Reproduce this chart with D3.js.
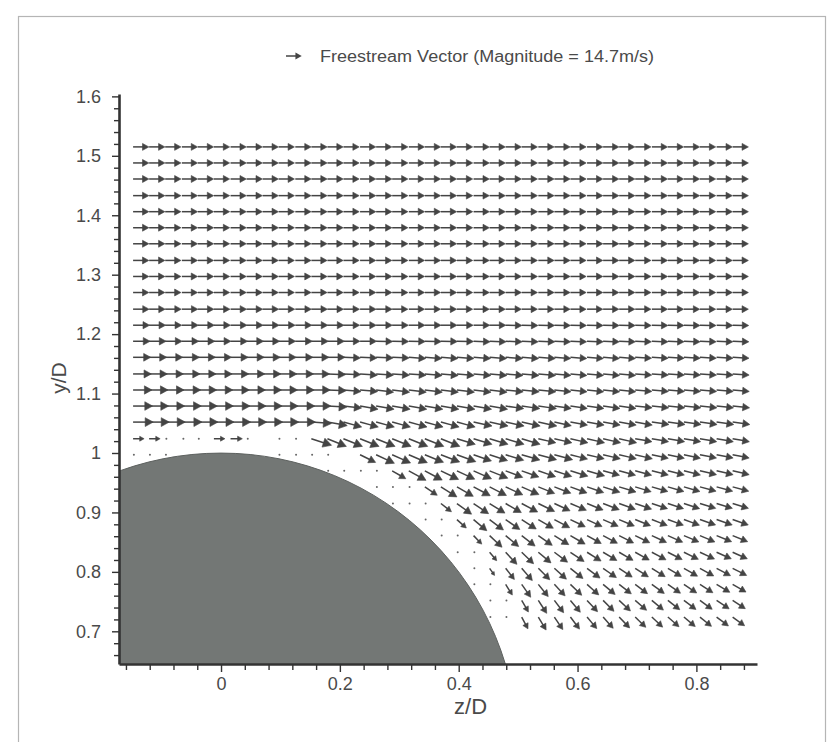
<!DOCTYPE html>
<html><head><meta charset="utf-8">
<script src="https://cdn.jsdelivr.net/npm/d3@7/dist/d3.min.js"></script>
<style>
html,body{margin:0;padding:0;background:#fff;}
svg{display:block;}
text{font-family:"Liberation Sans",Arial,Helvetica,sans-serif;fill:#4a4a4a;}
</style></head><body>
<svg id="chart" width="838" height="742"></svg>
<script>
// ---------------- data ----------------
// grid positions of the measurement points (z/D columns, y/D rows)
const zGrid = [-0.148,-0.121,-0.094,-0.066,-0.039,-0.012,0.016,0.043,0.070,0.097,
  0.125,0.152,0.179,0.206,0.234,0.261,0.288,0.316,0.343,0.370,
  0.397,0.425,0.452,0.479,0.506,0.534,0.561,0.588,0.616,0.643,
  0.670,0.697,0.725,0.752,0.779,0.806,0.834,0.861];
const yGrid = [1.515,1.488,1.461,1.433,1.406,1.379,1.352,1.324,1.297,1.270,
  1.242,1.215,1.188,1.161,1.133,1.106,1.079,1.052,1.024,0.997,
  0.970,0.943,0.915,0.888,0.861,0.833,0.806,0.779,0.752,0.724];

// flow direction (degrees, + = upward) for each row; null = no vector
const N = null;
const angleRows = [
 [0,0,0,0,0,0,0,0,0,0, 0,0,0,0,0,0,0,0,0,0, 0,0,0,0,0,0,0,0,0,0, 0,0,0,0,0,0,0,0],
 [0,0,0,0,0,0,0,0,0,0, 0,0,0,0,0,0,0,0,0,0, 0,0,0,0,0,0,0,0,0,0, 0,0,0,0,0,0,0,0],
 [0,0,0,0,0,0,0,0,0,0, 0,0,0,0,0,0,0,0,0,0, 0,0,0,0,0,0,0,0,0,0, 0,0,0,0,0,0,0,0],
 [0,0,0,0,0,0,0,0,0,0, 0,0,0,0,0,0,0,0,0,0, 0,0,0,0,0,0,0,0,0,0, 0,0,0,0,0,0,0,0],
 [0,0,0,0,0,0,0,0,0,0, 0,0,0,0,0,0,0,0,0,0, 0,0,0,0,0,0,0,0,0,0, 0,0,0,0,0,0,0,0],
 [0,0,0,0,0,0,0,0,0,0, 0,0,0,0,0,0,0,0,0,0, 0,0,0,0,0,0,0,0,0,0, 0,0,0,0,0,0,0,0],
 [0,0,0,0,0,0,0,0,0,0, 0,0,0,0,0,0,0,0,0,0, 0,0,0,0,0,0,0,0,0,0, 0,0,0,0,0,0,0,0],
 [0,0,0,0,0,0,0,0,0,0, 0,0,0,0,0,0,0,0,0,0, 0,0,0,0,0,0,0,0,0,0, 0,0,0,0,0,0,0,0],
 [0,0,0,0,0,0,0,0,0,0, 0,0,0,0,0,0,0,0,0,0, 0,0,0,0,0,0,0,0,0,0, 0,0,0,0,0,0,0,0],
 [0,0,0,0,0,0,0,0,0,0, 0,0,0,0,0,0,0,0,0,0, 0,0,0,0,0,0,0,0,0,0, 0,0,0,0,0,0,0,0],
 [0,0,0,0,0,0,0,0,0,0, 0,0,0,0,0,0,0,0,0,0, 0,0,0,0,0,0,0,0,0,0, 0,0,0,0,0,0,0,0],
 [0,0,0,0,0,0,0,0,0,0, 0,0,0,0,0,0,0,0,0,0, 0,0,0,-1,-1,-1,-1,-1,-1,-1, -1,-1,-1,-1,-1,-1,-1,-1],
 [0,0,0,0,0,0,0,0,0,0, 0,0,0,0,0,-1,-1,-1,-1,-1, -1,-2,-2,-2,-2,-2,-2,-2,-2,-2, -2,-2,-2,-2,-2,-2,-2,-2],
 [0,0,0,0,0,0,0,0,0,0, 0,0,0,-2,-2,-2,-2,-4,-4,-4, -4,-4,-4,-4,-4,-4,-4,-4,-4,-4, -4,-3,-3,-3,-3,-3,-3,-3],
 [0,0,0,0,0,0,0,0,0,0, 0,0,-2,-2,-4,-4,-4,-4,-5,-5, -5,-5,-5,-5,-5,-5,-5,-5,-5,-5, -5,-4,-4,-4,-4,-4,-4,-4],
 [0,0,0,0,0,0,0,0,0,0, 0,0,-2,-5,-5,-7,-7,-7,-7,-7, -7,-7,-7,-6,-6,-6,-6,-6,-6,-6, -6,-5,-5,-5,-5,-5,-5,-5],
 [0,0,0,0,0,0,0,0,0,0, 0,0,-3,-6,-10,-10,-10,-10,-10,-10, -10,-10,-10,-8,-8,-8,-8,-8,-8,-8, -8,-6,-6,-6,-6,-6,-6,-6],
 [0,0,0,0,0,0,0,0,0,0, 0,-4,-10,-15,-15,-15,-15,-15,-15,-15, -15,-12,-12,-12,-12,-12,-12,-10,-10,-10, -10,-10,-8,-8,-8,-8,-8,-8],
 [0,0,0,0,0,0,0,0,N,0, 0,-18,-22,-22,-22,-22,-22,-22,-22,-22, -17,-17,-17,-17,-17,-13,-13,-13,-13,-13, -13,-10,-10,-10,-10,-10,-10,-10],
 [0,0,0,N,N,N,N,N,N,0, 0,0,0,N,-26,-25,-24,-23,-22,-21, -20,-19,-18,-17,-16,-15,-15,-14,-13,-13, -13,-13,-12,-12,-12,-11,-11,-11],
 [N,N,N,N,N,N,N,N,N,N, N,N,0,0,0,0,-30,-29,-28,-26, -25,-24,-22,-21,-20,-19,-18,-17,-16,-15, -15,-15,-14,-14,-14,-13,-13,-13],
 [N,N,N,N,N,N,N,N,N,N, N,N,N,N,N,0,0,0,-34,-32, -30,-28,-27,-25,-24,-22,-21,-20,-19,-18, -17,-17,-16,-16,-16,-15,-15,-15],
 [N,N,N,N,N,N,N,N,N,N, N,N,N,N,N,N,0,0,0,-38, -36,-34,-32,-30,-28,-26,-25,-23,-22,-21, -20,-19,-18,-18,-18,-17,-17,-17],
 [N,N,N,N,N,N,N,N,N,N, N,N,N,N,N,N,N,N,0,0, -42,-40,-37,-35,-33,-30,-28,-26,-25,-24, -23,-22,-21,-20,-20,-19,-19,-19],
 [N,N,N,N,N,N,N,N,N,N, N,N,N,N,N,N,N,N,N,0, 0,-46,-43,-40,-38,-35,-32,-30,-29,-28, -27,-26,-25,-24,-23,-23,-22,-22],
 [N,N,N,N,N,N,N,N,N,N, N,N,N,N,N,N,N,N,N,N, 0,0,-50,-47,-44,-40,-37,-34,-32,-31, -30,-29,-28,-27,-26,-25,-24,-24],
 [N,N,N,N,N,N,N,N,N,N, N,N,N,N,N,N,N,N,N,N, N,0,-55,-52,-49,-45,-42,-39,-37,-35, -34,-33,-32,-31,-30,-29,-28,-27],
 [N,N,N,N,N,N,N,N,N,N, N,N,N,N,N,N,N,N,N,N, N,0,0,-58,-55,-51,-47,-44,-42,-40, -38,-37,-36,-35,-34,-33,-31,-30],
 [N,N,N,N,N,N,N,N,N,N, N,N,N,N,N,N,N,N,N,N, N,N,0,0,-60,-57,-53,-50,-47,-45, -43,-41,-40,-38,-37,-36,-34,-33],
 [N,N,N,N,N,N,N,N,N,N, N,N,N,N,N,N,N,N,N,N, N,N,0,0,-62,-59,-56,-53,-50,-48, -46,-44,-43,-41,-40,-39,-37,-36]
];

// speed relative to the freestream (14.7 m/s) for each row; null = no vector
const speedRows = [
 [1,1,1,1,1,1,1,1,1,1, 1,1,1,1,1,1,1,1,1,1, 1,1,1,1,1,1,1,1,1,1, 1,1,1,1,1,1,1,1],
 [1,1,1,1,1,1,1,1,1,1, 1,1,1,1,1,1,1,1,1,1, 1,1,1,1,1,1,1,1,1,1, 1,1,1,1,1,1,1,1],
 [1,1,1,1,1,1,1,1,1,1, 1,1,1,1,1,1,1,1,1,1, 1,1,1,1,1,1,1,1,1,1, 1,1,1,1,1,1,1,1],
 [1,1,1,1,1,1,1,1,1,1, 1,1,1,1,1,1,1,1,1,1, 1,1,1,1,1,1,1,1,1,1, 1,1,1,1,1,1,1,1],
 [1,1,1,1,1,1,1,1,1,1, 1,1,1,1,1,1,1,1,1,1, 1,1,1,1,1,1,1,1,1,1, 1,1,1,1,1,1,1,1],
 [1,1,1,1,1,1,1,1,1,1, 1,1,1,1,1,1,1,1,1,1, 1,1,1,1,1,1,1,1,1,1, 1,1,1,1,1,1,1,1],
 [1,1,1,1,1,1,1,1,1,1, 1,1,1,1,1,1,1,1,1,1, 1,1,1,1,1,1,1,1,1,1, 1,1,1,1,1,1,1,1],
 [1,1,1,1,1,1,1,1,1,1, 1,1,1,1,1,1,1,1,1,1, 1,1,1,1,1,1,1,1,1,1, 1,1,1,1,1,1,1,1],
 [1,1,1,1,1,1,1,1,1,1, 1,1,1,1,1,1,1,1,1,1, 1,1,1,1,1,1,1,1,1,1, 1,1,1,1,1,1,1,1],
 [1,1,1,1,1,1,1,1,1,1, 1,1,1,1,1,1,1,1,1,1, 1,1,1,1,1,1,1,1,1,1, 1,1,1,1,1,1,1,1],
 [1.02,1.02,1.02,1.02,1.02,1.02,1.02,1.02,1.02,1.02, 1.02,1.02,1.02,1.02,1.02,1.02,1,1,1,1, 1,1,1,1,1,1,1,1,1,1, 1,1,1,1,1,1,1,1],
 [1.05,1.05,1.05,1.05,1.05,1.05,1.05,1.05,1.05,1.05, 1.05,1.05,1.05,1.03,1.03,1.03,1.03,1.03,1.03,1.03, 1.03,1.03,1.03,1.03,1.03,1.03,1.02,1.02,1.02,1.02, 1.02,1.02,1.02,1.02,1.02,1.02,1.02,1.02],
 [1.08,1.08,1.08,1.08,1.08,1.08,1.08,1.08,1.08,1.08, 1.08,1.08,1.08,1.05,1.05,1.05,1.05,1.05,1.05,1.05, 1.05,1.05,1.05,1.05,1.05,1.05,1.03,1.03,1.03,1.03, 1.03,1.03,1.03,1.03,1.03,1.03,1.03,1.03],
 [1.12,1.12,1.12,1.12,1.12,1.12,1.12,1.12,1.12,1.12, 1.12,1.12,1.12,1.08,1.08,1.08,1.08,1.08,1.08,1.08, 1.08,1.08,1.08,1.08,1.08,1.08,1.04,1.04,1.04,1.04, 1.04,1.04,1.04,1.04,1.04,1.04,1.04,1.04],
 [1.16,1.16,1.16,1.16,1.16,1.16,1.16,1.16,1.16,1.16, 1.16,1.16,1.16,1.1,1.1,1.1,1.1,1.1,1.1,1.1, 1.1,1.1,1.1,1.1,1.1,1.1,1.05,1.05,1.05,1.05, 1.05,1.05,1.05,1.05,1.05,1.05,1.05,1.05],
 [1.2,1.2,1.2,1.2,1.2,1.2,1.2,1.2,1.2,1.2, 1.2,1.2,1.2,1.12,1.12,1.12,1.12,1.12,1.12,1.12, 1.12,1.12,1.12,1.12,1.12,1.12,1.06,1.06,1.06,1.06, 1.06,1.06,1.06,1.06,1.06,1.06,1.06,1.06],
 [1.24,1.24,1.24,1.24,1.24,1.24,1.24,1.24,1.24,1.24, 1.24,1.24,1.24,1.16,1.16,1.16,1.16,1.16,1.16,1.16, 1.16,1.16,1.16,1.16,1.16,1.16,1.08,1.08,1.08,1.08, 1.08,1.08,1.08,1.08,1.08,1.08,1.08,1.08],
 [1.28,1.28,1.28,1.28,1.28,1.28,1.28,1.28,1.28,1.28, 1.28,1.28,1.28,1.2,1.2,1.2,1.2,1.2,1.2,1.2, 1.2,1.2,1.2,1.2,1.2,1.2,1.1,1.1,1.1,1.1, 1.1,1.1,1.1,1.1,1.1,1.1,1.1,1.1],
 [0.7,0.7,0.15,0.2,0.12,0.7,0.75,0.15,N,0.1, 0.1,1.35,1.3,1.3,1.3,1.3,1.3,1.3,1.3,1.3, 1.22,1.22,1.22,1.22,1.22,1.14,1.14,1.14,1.14,1.14, 1.14,1.08,1.08,1.08,1.08,1.08,1.08,1.08],
 [0.1,0.1,0.1,N,N,N,N,N,N,0.1, 0.1,0.1,0.1,N,1.1,1.28,1.28,1.28,1.28,1.28, 1.28,1.2,1.2,1.2,1.2,1.2,1.2,1.12,1.12,1.12, 1.12,1.12,1.07,1.07,1.07,1.07,1.07,1.07],
 [N,N,N,N,N,N,N,N,N,N, N,N,0.1,0.1,0.1,0.1,1.0,1.25,1.25,1.25, 1.25,1.25,1.25,1.16,1.16,1.16,1.16,1.16,1.16,1.08, 1.08,1.08,1.08,1.08,1.08,1.08,1.08,1.08],
 [N,N,N,N,N,N,N,N,N,N, N,N,N,N,N,0.1,0.1,0.1,0.95,1.2, 1.2,1.2,1.2,1.2,1.2,1.12,1.12,1.12,1.12,1.12, 1.12,1.06,1.06,1.06,1.06,1.06,1.06,1.06],
 [N,N,N,N,N,N,N,N,N,N, N,N,N,N,N,N,0.1,0.1,0.1,0.85, 1.15,1.15,1.15,1.15,1.15,1.15,1.1,1.1,1.1,1.1, 1.1,1.1,1.05,1.05,1.05,1.05,1.05,1.05],
 [N,N,N,N,N,N,N,N,N,N, N,N,N,N,N,N,N,N,0.1,0.1, 0.8,1.1,1.1,1.1,1.1,1.1,1.1,1.05,1.05,1.05, 1.05,1.05,1.05,1.05,1.05,1.05,1.05,1.05],
 [N,N,N,N,N,N,N,N,N,N, N,N,N,N,N,N,N,N,N,0.1, 0.1,0.75,1.08,1.08,1.08,1.08,1.08,1.08,1.03,1.03, 1.03,1.03,1.03,1.03,1.03,1.03,1.03,1.03],
 [N,N,N,N,N,N,N,N,N,N, N,N,N,N,N,N,N,N,N,N, 0.1,0.1,0.7,1.05,1.05,1.05,1.05,1.05,1.05,1.02, 1.02,1.02,1.02,1.02,1.02,1.02,1.02,1.02],
 [N,N,N,N,N,N,N,N,N,N, N,N,N,N,N,N,N,N,N,N, N,0.1,0.55,0.9,1.03,1.03,1.03,1.03,1.03,1.03, 1.0,1.0,1.0,1.0,1.0,1.0,1.0,1.0],
 [N,N,N,N,N,N,N,N,N,N, N,N,N,N,N,N,N,N,N,N, N,0.1,0.1,0.8,1.0,1.0,1.0,1.0,1.0,1.0, 0.98,0.98,0.98,0.98,0.98,0.98,0.98,0.98],
 [N,N,N,N,N,N,N,N,N,N, N,N,N,N,N,N,N,N,N,N, N,N,0.1,0.1,0.85,0.98,0.98,0.98,0.98,0.98, 0.98,0.96,0.96,0.96,0.96,0.96,0.96,0.96],
 [N,N,N,N,N,N,N,N,N,N, N,N,N,N,N,N,N,N,N,N, N,N,0.1,0.1,0.85,0.96,0.96,0.96,0.96,0.96, 0.96,0.94,0.94,0.94,0.94,0.94,0.94,0.94]
];

const xTickValues = [0, 0.2, 0.4, 0.6, 0.8];
const xTickLabels = ["0", "0.2", "0.4", "0.6", "0.8"];
const yTickValues = [0.7, 0.8, 0.9, 1.0, 1.1, 1.2, 1.3, 1.4, 1.5, 1.6];
const yTickLabels = ["0.7", "0.8", "0.9", "1", "1.1", "1.2", "1.3", "1.4", "1.5", "1.6"];
const cylinderCenter = [0, 0.5];   // z/D, y/D
const cylinderRadius = 0.5;        // D/2
const freestreamSpeed = 14.7;      // m/s
const legendLabel = "Freestream Vector (Magnitude = 14.7m/s)";
const xTitle = "z/D", yTitle = "y/D";

// ---------------- drawing ----------------
(function () {
const svg = d3.select("#chart");
const pL = 119, pR = 757, pT = 94, pB = 664;
const x = d3.scaleLinear().domain([-0.1717, 0.902]).range([pL, pR]);
const y = d3.scaleLinear().domain([0.645, 1.604]).range([pB, pT]);
const refLen = 0.0265; // data units drawn for the freestream magnitude
const unitPx = x(refLen) - x(0);
const ink = "#444";

// outer frame
svg.append("rect").attr("x", 18.5).attr("y", 16.5).attr("width", 807).attr("height", 760)
  .attr("fill", "none").attr("stroke", "#b5b5b5").attr("stroke-width", 1.2);

svg.append("clipPath").attr("id", "plotClip").append("rect")
  .attr("x", pL).attr("y", pT).attr("width", pR - pL).attr("height", pB - pT);

// cylinder
svg.append("circle")
  .attr("clip-path", "url(#plotClip)")
  .attr("cx", x(cylinderCenter[0])).attr("cy", y(cylinderCenter[1]))
  .attr("r", x(cylinderRadius) - x(0))
  .attr("fill", "#737775").attr("stroke", "#5d615f").attr("stroke-width", 1);

// vectors
const vecs = [];
yGrid.forEach((yv, j) => {
  zGrid.forEach((zv, k) => {
    const a = angleRows[j][k], s = speedRows[j][k];
    if (a === null || s === null) return;
    vecs.push({z: zv, y: yv, a: a, s: s});
  });
});

function arrowParts(x0, y0, L, deg) {
  const r = deg * Math.PI / 180;
  const ux = Math.cos(r), uy = -Math.sin(r);
  const x1 = x0 + L * ux, y1 = y0 + L * uy;
  const hl = 0.4 * L, hw = 0.22 * L;
  const bx = x1 - hl * ux, by = y1 - hl * uy;
  return {
    shaft: [x0, y0, bx + 0.3 * hl * ux, by + 0.3 * hl * uy],
    head: `M${x1},${y1}L${bx - hw * uy},${by + hw * ux}L${bx + hw * uy},${by - hw * ux}Z`
  };
}

const gv = svg.append("g");
vecs.forEach(v => {
  const x0 = x(v.z), y0 = y(v.y);
  const L = v.s * unitPx;
  if (v.s < 0.3) {
    gv.append("circle").attr("cx", x0 + L * 0.5).attr("cy", y0).attr("r", 1.0).attr("fill", "#666");
    return;
  }
  const p = arrowParts(x0, y0, L, v.a);
  gv.append("line").attr("x1", p.shaft[0]).attr("y1", p.shaft[1]).attr("x2", p.shaft[2]).attr("y2", p.shaft[3])
    .attr("stroke", ink).attr("stroke-width", 1.5);
  gv.append("path").attr("d", p.head).attr("fill", ink).attr("stroke", ink).attr("stroke-width", 0.6)
    .attr("stroke-linejoin", "round");
});

// axes
const yMinor = d3.range(0.66, 1.601, 0.02).filter(v => Math.abs(v * 10 - Math.round(v * 10)) > 0.01);
const xMinor = d3.range(-0.16, 0.881, 0.04).filter(v => Math.abs(v * 5 - Math.round(v * 5)) > 0.01);

const axisColor = "#333";
svg.append("g").attr("transform", `translate(${pL},0)`)
  .call(d3.axisLeft(y).tickValues(yTickValues).tickSize(7).tickSizeOuter(0).tickPadding(11)
    .tickFormat((d, i) => yTickLabels[i]));
svg.append("g").attr("transform", `translate(${pL},0)`)
  .call(d3.axisLeft(y).tickValues(yMinor).tickSize(5).tickSizeOuter(0).tickFormat(""))
  .select(".domain").remove();
svg.append("g").attr("transform", `translate(0,${pB})`)
  .call(d3.axisBottom(x).tickValues(xTickValues).tickSize(8).tickSizeOuter(0).tickPadding(5)
    .tickFormat((d, i) => xTickLabels[i]));
svg.append("g").attr("transform", `translate(0,${pB})`)
  .call(d3.axisBottom(x).tickValues(xMinor).tickSize(6).tickSizeOuter(0).tickFormat(""))
  .select(".domain").remove();

svg.selectAll(".domain").attr("stroke", axisColor).attr("stroke-width", 2.6);
svg.selectAll(".tick line").attr("stroke", axisColor).attr("stroke-width", 1.4);
svg.selectAll(".tick text").attr("font-size", 18).attr("fill", "#4a4a4a")
  .attr("font-family", "'Liberation Sans',Arial,sans-serif");

// titles
svg.append("text").attr("x", (x(0.4) + x(0.44)) / 2).attr("y", 714).attr("text-anchor", "middle")
  .attr("font-size", 22).text(xTitle);
svg.append("text").attr("transform", `translate(66,378) rotate(-90)`).attr("text-anchor", "middle")
  .attr("font-size", 21).text(yTitle);

// legend
const lg = arrowParts(286, 56, unitPx, 0);
svg.append("line").attr("x1", lg.shaft[0]).attr("y1", lg.shaft[1]).attr("x2", lg.shaft[2]).attr("y2", lg.shaft[3])
  .attr("stroke", ink).attr("stroke-width", 1.5);
svg.append("path").attr("d", lg.head).attr("fill", ink);
svg.append("text").attr("x", 320).attr("y", 62).attr("font-size", 16)
  .attr("textLength", 334).attr("lengthAdjust", "spacingAndGlyphs").text(legendLabel);
})();
</script>
</body></html>
